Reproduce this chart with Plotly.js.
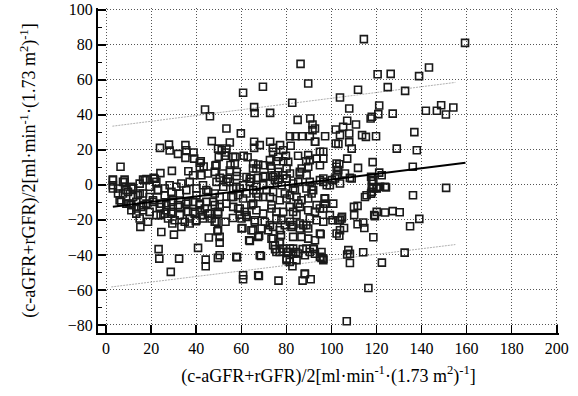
<!DOCTYPE html>
<html>
<head>
<meta charset="utf-8">
<script src="https://cdn.plot.ly/plotly-3.0.1.min.js"></script>
<style>html,body{margin:0;padding:0;background:#fff;}#chart{width:578px;height:396px;}</style>
</head>
<body>
<div id="chart"></div>
<script>
// mean of the two methods (x) and difference (y)
const meanVals = [
86.3,89.7,69.6,60.8,82.6,43.9,46.1,65.7,65.9,72.8,85,90.6,91.6,53.4,59.8,81.6,84.1,86.9,90.4,91.6,97.2,101.9,101.9,92.8,
46.9,54.9,65.7,65.7,72.8,74,77.2,81.9,23.9,27.9,28.2,35.2,35.6,31.9,35.2,38.8,39.1,49.7,51.3,53.1,52.7,57.4,61.1,62.8,
42,43.3,48.5,29.2,24.1,6.4,36.5,55.2,54.9,58,65.2,67.5,69.7,73.1,75.6,78.6,79.8,85.2,89.7,88.8,93.4,96.4,96.4,86.8,81.6,86,
96.4,102.3,102.3,3,8.2,16.4,21.6,45.2,42.3,38.6,50.4,54.1,57.9,62.3,64.2,67.5,70.4,74.1,76.4,78.6,80.1,
114.4,159.3,143.3,138.9,120.5,126.3,125,132.7,111.8,103.8,107.9,121.2,120.8,117.9,117.4,127.2,141.9,146.8,148.7,150.8,154.1,
105.2,107,110.9,107.9,113.6,115.3,119.8,136.8,103.1,107.9,109,129,137.9,107,103.5,111.8,118.3,136.1,106,108.2,121.2,122.3,117.9,
24.5,30.1,23.3,23.6,32.4,28.7,40.8,44.2,44.2,49.6,50.4,45.6,50.4,49.4,53,58.1,60.8,67.8,76.5,68.7,63.8,67.9,65.2,60.5,
73.4,74.1,75,75.6,77.1,77.6,80.1,81.6,83,84.3,87.3,90.4,92.2,92.7,95.6,96.4,80.1,82.7,87.2,88.2,90.8,95.6,95.2,96.4,97.1,100.5,102.3,
14.9,15.2,18.6,24.2,28.9,29.4,33.4,34.9,37.1,39.8,42.8,45.2,46.8,49,56.3,59.3,
106.8,116.4,108.2,122.4,107.5,108.2,107,114.1,132.5,118.6,134.9,139,130.3,103.5,105.6,103.8,104.7,110.1,111.6,114.6,110,111.6,114.1,
119,120.1,123.8,127.2,114.9,117.6,115.6,118.6,118.6,121.6,124.2,117.6,136.2,150.9,99.3,100.2,
41.6,41.6,50,49,48.2,21.1,17.9,14.9,8.2,3,11.9,
56.4,59.3,65.3,66.7,71.2,74.1,79.3,83.8,88.9,91.9,55.6,58.6,62.3,67.5,72.7,80.1,84.5,86.7,91.2,97.1,
56.4,59.3,61.5,64.5,66.7,73.4,75.6,81.5,83,86,89.7,94.9,97.1,60.1,62.3,66,70.4,77.8,79.3,83,86,88.9,93.4,103,103.8,
60.1,64.5,67.5,69,71.9,74.1,77.1,82.3,86,89.7,94.9,63.5,74.1,74.9,77.1,78.6,83,86.7,89.7,92.7,77.1,80.8,83,85.3,88.9,91.9,94.9,96.4,
57.8,68.2,80.1,81.5,84.5,88.2,60.8,67.5,88.2,
3,5.3,7.5,9.7,11.9,14.1,16.4,19.3,23,26,29,32.7,35.6,40.1,44.5,48.2,50.4,
6,9,11.2,13.4,15.6,17.9,20.8,23.8,26.7,29,31.9,35.6,38.6,41.6,44.5,48.2,50.4,
11.2,13.4,16.4,19.3,22.3,26,29,32.7,36.4,39.3,41.6,46,49.7,27.5,30.4,37.1,40.1,43,48.2,49.7,50.4,
92.7,92.7,103.8,53.4,56.4,57.1,51.9,68.2,74.1,76.4,78.6,80.8,90.4,94.9,65.3,66.7,72.7,73.4,76.4,80.1,86,89.7,94.9,102.3,103,
53.4,57.8,63.8,69.7,74.9,83,90.4,96.4,103.8,109,123.8,117.9,120.1,117.9,120.1,119.3,104.5,
3,5.3,7.5,9,11.2,12,14.9,17.1,19.3,22.3,23,26,28.2,31.2,33.4,37.1,40.1,43,45.3,49,52,54.9,
6.7,10.4,13.4,16.4,20.8,24.5,26.7,29.7,32.7,36.4,38.6,41.6,43.8,47.5,49.7,53.4,56.4,58.6,
60.8,63.8,66.7,69.7,72.7,74.9,77.9,80.1,83,85.3,89,91.2,94.9,97.9,101.6,60.8,65.3,69.7,73.4,77.1,81.6,85.3,89.7,93.4,97.1,100.8,
62.3,66,69.7,72.7,75.6,78.6,81.6,84.5,87.5,90.4,92.7,96.4,99.3
];
const diffVals = [
69.1,57.9,56,52.6,46.9,43,39.2,44.4,41,41.1,37.1,37.9,34.5,32.2,29.4,27.8,27.8,27.8,27.8,31.2,27.8,31.6,23.6,24.6,
25,24.2,24.6,21.1,24.6,21.1,22.7,22.3,21.1,23,19.6,22.7,19.8,17.7,15.4,18.5,15,20.7,19.8,18.5,16.6,16,16.6,15.8,
13.5,10.5,11,8,6.7,10.3,7.8,11.3,8.2,7.4,9.3,11.6,11.2,10.9,13.5,13.5,16.6,16.6,17,13.5,15,15,18.9,9.3,6.5,6.5,
3.6,10.3,5.5,3,3,3,3.5,6.5,5.5,5.5,4,3.5,5,4.5,3.5,4,5,4.5,3,5.5,3.5,
83.2,81.1,67,62.1,63.2,63.4,55.8,53.7,54.3,49.9,43.6,45.3,40.4,38.9,37.9,40.7,42.3,42.3,45.5,40.2,44.2,
33.1,36.6,34.5,29.3,28.4,27.4,27.8,30.1,23.3,24.4,20.7,20.7,19.8,15,11.8,9.7,13,10.3,6.5,4,7,5.5,2.7,
-26.9,-28.4,-36.7,-42.1,-42.1,-49.7,-36,-42.7,-46.5,-41.7,-40.2,-30.1,-33,-26.5,-21.1,-41.3,-53.9,-52,-54.7,-40.6,-32,-29.1,-25.9,-24.6,
-30.7,-34.5,-36.7,-38.3,-32.6,-28.7,-38.3,-36.4,-39.3,-38.3,-36.7,-38.3,-36.7,-39.3,-38.3,-43,-43,-46.5,-54.7,-50.7,-53.9,-41.7,-28.2,-13.5,-7.8,-20.2,-27.8,
-19.2,-24,-21.1,-17.3,-16.4,-22.1,-24,-21.1,-19.2,-20.7,-17.3,-16.4,-19.2,-21.1,-18.9,-17,
-77.9,-58.9,-44.6,-44.4,-37.3,-39.3,-39.8,-38.5,-38.7,-29.9,-23.6,-19.4,-15.6,-29.1,-24.6,-20.2,-18.3,-17.3,-22.5,-24.6,-12.6,-12,-21.5,
-17.3,-15.4,-15.8,-15,-6.9,-5,-5.9,-2.1,2.1,-1.1,-1.5,4.6,-5.9,-1.7,-0.2,2.7,
12.6,10.1,16,11.3,7.4,4,3.3,0.7,1.7,-0.2,-2.1,
-2.1,-2.1,-3,-4.9,-3,-4,-4.9,-3,-2.1,-3,-6.9,-5.9,-4.9,-6.9,-6.9,-7.8,-6.9,-8.8,-4.9,-7.8,
-12.6,-13.5,-15.4,-11.6,-14.5,-13.5,-15.4,-12.6,-15.4,-12.6,-14.5,-13.5,-10.7,-19.2,-18.3,-20.2,-21.1,-20.2,-23,-23,-22.1,-23,-20.2,-20.2,-25.9,
-24.9,-25.9,-29.7,-24.9,-25.9,-24,-25.9,-24,-24.9,-24.9,-27.8,-31.6,-30.7,-34.5,-33.5,-36.4,-29.7,-29.7,-30.7,-31.6,-38.3,-38.3,-36.4,-39.2,-36.4,-36.4,-41.1,-42.1,
-41.1,-40.2,-42.1,-44,-43,-40.2,-51.6,-51.6,-51,
-2.1,-4.9,-4.9,-4,-2.1,-5.9,-4.9,-6.9,-3,-5.9,-4,-4.9,-3,-5.9,-3,-4.9,-6.9,
-8.8,-10.7,-11.6,-9.7,-12.6,-10.7,-9.7,-12.6,-11.6,-9.7,-11.6,-10.7,-9.7,-11.6,-9.7,-11.6,-12.6,
-14.5,-16.4,-14.5,-15.4,-17.3,-16.4,-15.4,-17.3,-15.4,-16.4,-14.5,-16.4,-15.4,-19.2,-20.2,-22.1,-20.2,-19.2,-21.1,-25.9,-29.7,
32.2,24.6,28.4,20.8,16,12.2,6.5,22.7,18.9,16,19.8,13.1,14.1,18.9,12.2,9.3,14.1,9.3,7.4,9.3,7.4,10.3,11.2,12.2,8.4,
1.7,-1.1,1.7,-0.2,2.7,0.8,1.7,1.7,0.8,3.6,-1.1,-1.7,-1.7,-4,-2.1,-17.9,-19.2,
2.7,-2.1,1.7,-3,-1.1,-6.9,-4.9,2.7,-1.1,1.7,-3,-2.1,-0.2,-1.1,0.8,1.7,-2.1,-0.2,-4,1.7,-1.1,1.7,
-9.7,-10.7,-13.5,-11.6,-8.8,-10.7,-14.5,-8.8,-12.6,-9.7,-15.4,-10.7,-13.5,-9.7,-16.4,-10.7,-6.9,-13.5,
-0.2,3.6,-1.1,4.6,0.8,5.5,-0.2,3.6,-2.1,1.7,5.5,-1.1,2.7,-0.2,3.6,-7.8,-10.7,-6.9,-11.6,-8.8,-5.9,-10.7,-7.8,-11.6,-7.8,-10.7,
-17.3,-21.1,-16.4,-23,-19.2,-15.4,-21.1,-17.3,-23,-19.2,-15.4,-21.1,-17.3
];
// regression line of the differences and its limits (end points)
const fitX = [3, 159.5];
const fitY = [-12.5, 12.6];
const upperX = [2.8, 155];
const upperY = [33.5, 58.5];
const lowerX = [2.3, 155];
const lowerY = [-58.3, -34.1];
const xTicks = [0, 20, 40, 60, 80, 100, 120, 140, 160, 180, 200];
const yTicks = [-80, -60, -40, -20, 0, 20, 40, 60, 80, 100];

const serif = 'Liberation Serif, Times New Roman, serif';
const axisTitle = '(c-aGFR+rGFR)/2[ml·min<sup>-1</sup>·(1.73 m<sup>2</sup>)<sup>-1</sup>]';
const traces = [
  {x: upperX, y: upperY, mode: 'lines', line: {color: '#b0b0b0', width: 1, dash: '2px,1px'}, hoverinfo: 'skip'},
  {x: lowerX, y: lowerY, mode: 'lines', line: {color: '#b0b0b0', width: 1, dash: '2px,1px'}, hoverinfo: 'skip'},
  {x: meanVals, y: diffVals, mode: 'markers', type: 'scatter',
   marker: {symbol: 'square-open', size: 7, color: '#1a1a1a', line: {width: 1.6, color: '#1a1a1a'}}},
  {x: fitX, y: fitY, mode: 'lines', line: {color: '#000', width: 2}, hoverinfo: 'skip'}
];
const layout = {
  width: 578, height: 396,
  margin: {l: 98, r: 19, t: 8, b: 63},
  showlegend: false,
  paper_bgcolor: '#fff', plot_bgcolor: '#fff',
  font: {family: serif, color: '#000', size: 16},
  xaxis: {
    range: [-3.6, 201], tickvals: xTicks, ticktext: xTicks.map(String),
    ticks: 'inside', ticklen: 8, tickwidth: 1.5, tickcolor: '#000',
    showline: true, linecolor: '#000', linewidth: 2,
    showgrid: true, gridcolor: '#555', gridwidth: 1, griddash: '1px,2px',
    zeroline: false, tickfont: {family: serif, size: 16},
    title: {text: axisTitle, font: {family: serif, size: 18}, standoff: 13}
  },
  yaxis: {
    range: [-84.6, 101], tickvals: yTicks, ticktext: yTicks.map(v => v < 0 ? '−' + Math.abs(v) : String(v)),
    ticks: 'inside', ticklen: 8, tickwidth: 1.5, tickcolor: '#000',
    minor: {dtick: 10, ticks: 'inside', ticklen: 4, tickcolor: '#000', showgrid: false},
    showline: true, linecolor: '#000', linewidth: 2,
    showgrid: true, gridcolor: '#555', gridwidth: 1, griddash: '1px,2px',
    zeroline: false, tickfont: {family: serif, size: 16},
    title: {text: axisTitle, font: {family: serif, size: 18}, standoff: 27}
  }
};
Plotly.newPlot('chart', traces, layout, {staticPlot: true, displayModeBar: false});
</script>
</body>
</html>
